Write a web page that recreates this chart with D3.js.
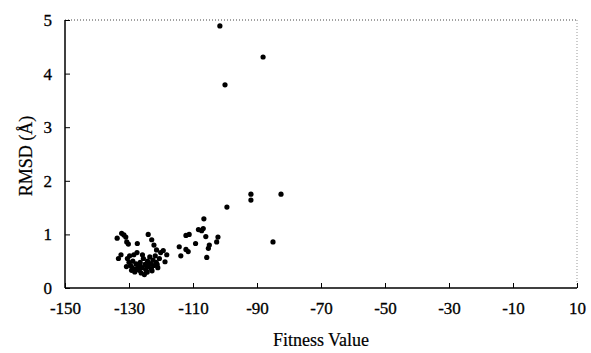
<!DOCTYPE html>
<html><head><meta charset="utf-8">
<script src="https://cdn.jsdelivr.net/npm/d3@7"></script>
<style>body{margin:0;background:#fff}svg{display:block}</style>
</head><body>
<script>
const xTicks = [-150,-130,-110,-90,-70,-50,-30,-10,10];
const yTicks = [0,1,2,3,4,5];
const fitness = [
 -101.6,-88.1,-100,-91.9,-91.9,-82.5,-99.4,-85,
 -106.6,-108.3,-107.3,-106.8,-111.2,-112.2,-106,-109.2,-104.9,-105.2,-102.2,-102.6,-114.3,-112.2,-111.5,-113.8,-105.7,
 -132.3,-131.6,-131,-133.7,-130.7,-130.2,-127.4,-124,-122.9,-122.2,-121.4,-120.1,-119.3,-118.2,-132.5,-133.3,-118.75,-124.3,
 -130.5,-130,-129.5,-129,-128.8,-128.5,-128,-127.8,-127.2,-126.8,-126.5,-126,-125.8,-125.5,-125,-124.8,-124.5,-124.2,-124,-123.5,-123.2,-123,-122.5,-122.2,-121.8,-121.5,-121,-120.5,-129.8,-126.2,-128.2,-125.2,-130.8,-129.2,-122.8,-121.2,-127.5,-126.6,-123.8
];
const rmsd = [
 4.89,4.31,3.79,1.75,1.64,1.75,1.51,0.86,
 1.29,1.09,1.07,1.11,1.0,0.98,0.96,0.83,0.80,0.74,0.95,0.86,0.77,0.72,0.68,0.60,0.57,
 1.02,0.99,0.95,0.93,0.86,0.82,0.83,1.0,0.90,0.80,0.71,0.66,0.70,0.62,0.62,0.55,0.49,0.30,
 0.55,0.48,0.42,0.38,0.50,0.62,0.35,0.45,0.40,0.33,0.48,0.38,0.62,0.55,0.44,0.35,0.30,0.50,0.40,0.58,0.45,0.36,0.52,0.42,0.60,0.48,0.38,0.55,0.60,0.28,0.30,0.25,0.40,0.33,0.32,0.44,0.66,0.42,0.46
];

const W = 591, H = 353;
const m = {l:65, r:14, t:20, b:65};
const svg = d3.select("body").append("svg").attr("width",W).attr("height",H);
const x = d3.scaleLinear().domain([-150,10]).range([m.l, W-m.r]);
const y = d3.scaleLinear().domain([0,5]).range([H-m.b, m.t]);
const font = "'Liberation Serif', 'Times New Roman', serif";

svg.append("line").attr("x1",x(-150)).attr("x2",x(10)).attr("y1",y(5)).attr("y2",y(5))
  .attr("stroke","#444").attr("stroke-width",1).attr("stroke-dasharray","1,2");
svg.append("line").attr("x1",x(10)).attr("x2",x(10)).attr("y1",y(5)).attr("y2",y(0))
  .attr("stroke","#999").attr("stroke-width",1).attr("stroke-dasharray","1,2");

const fmt = d => String(d);
const xa = svg.append("g").attr("transform",`translate(0,${y(0)})`)
  .call(d3.axisBottom(x).tickValues(xTicks).tickSize(-5).tickPadding(14).tickFormat(fmt));
const ya = svg.append("g").attr("transform",`translate(${x(-150)},0)`)
  .call(d3.axisLeft(y).tickValues(yTicks).tickSize(-5).tickPadding(13).tickFormat(fmt));
[xa,ya].forEach(a=>{
  a.select(".domain").attr("stroke","#000").attr("stroke-width",1.5);
  a.selectAll(".tick line").attr("stroke","#000");
  a.selectAll("text").attr("font-family",font).attr("font-size",17).attr("fill","#000")
    .attr("stroke","#000").attr("stroke-width",0.3);
});
xa.selectAll(".domain").attr("d",`M${x(-150)},0H${x(10)}`);
ya.selectAll(".domain").attr("d",`M0,${y(0)}V${y(5)}`);

svg.append("g").selectAll("circle").data(fitness.map((f,i)=>[f,rmsd[i]])).join("circle")
  .attr("cx",d=>x(d[0])).attr("cy",d=>y(d[1])).attr("r",2.6).attr("fill","#000");

svg.append("text").attr("x",(x(-150)+x(10))/2).attr("y",346).attr("text-anchor","middle")
  .attr("font-family",font).attr("font-size",18).attr("stroke","#000").attr("stroke-width",0.2).text("Fitness Value");
svg.append("text").attr("transform",`translate(32,${y(2.5)+2}) rotate(-90)`).attr("text-anchor","middle")
  .attr("font-family",font).attr("font-size",18).attr("stroke","#000").attr("stroke-width",0.2).text("RMSD (Å)");
</script>
</body></html>
